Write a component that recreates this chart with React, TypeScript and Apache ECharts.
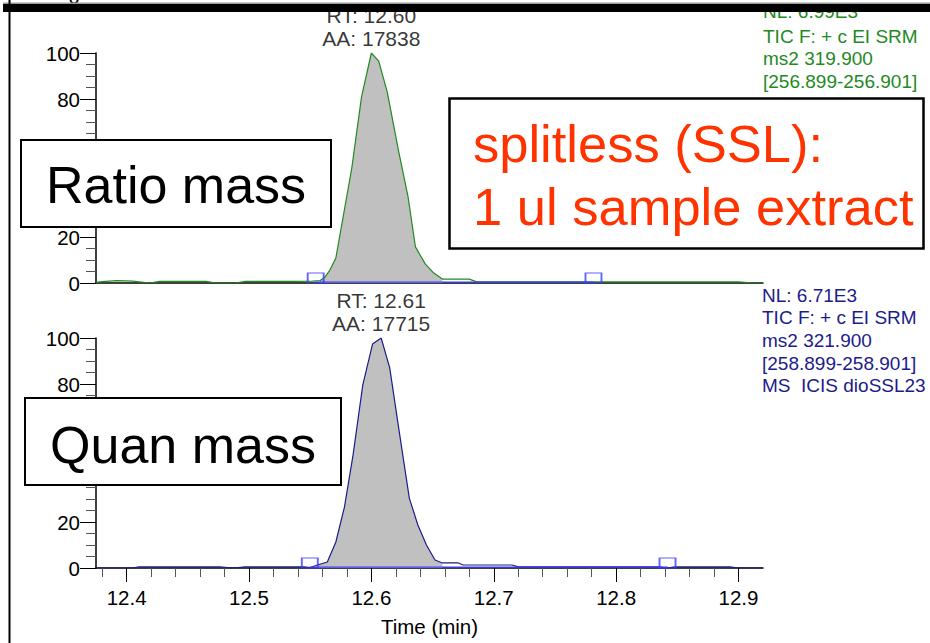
import React, { useEffect, useRef } from "react";
import * as echarts from "echarts";

const FONT = '"Liberation Sans", Arial, Helvetica, sans-serif';

// x range (min) and tick labels
const xMin = 12.375;
const xMax = 12.92;
const majorTicks = [12.4, 12.5, 12.6, 12.7, 12.8, 12.9];
const minorTicks = [
  12.38, 12.42, 12.44, 12.46, 12.48, 12.52, 12.54, 12.56, 12.58, 12.62, 12.64,
  12.66, 12.68, 12.72, 12.74, 12.76, 12.78, 12.82, 12.84, 12.86, 12.88,
];

// Ratio mass trace (green)
const topTimes = [
  12.375, 12.38, 12.392, 12.405, 12.419, 12.427, 12.465, 12.473, 12.489, 12.497,
  12.54, 12.552, 12.558, 12.562, 12.566, 12.571, 12.584, 12.592, 12.6, 12.606,
  12.613, 12.622, 12.63, 12.636, 12.644, 12.651, 12.658, 12.68, 12.686, 12.75,
  12.8, 12.85, 12.9, 12.912, 12.92,
];
const topValues = [
  0.3, 0.6, 1.0, 0.8, 0.0, 0.7, 0.7, 0.0, 0.0, 0.7, 0.7, 0.8, 1.0, 2.6, 5.5,
  10.9, 50, 81, 100, 96.5, 83, 58, 37.4, 15.7, 8.3, 4.3, 1.7, 1.7, 0.5, 0.5,
  0.5, 0.5, 0.5, 0.0, 0.0,
];
const topFillRange = [12.556, 12.658];
const topIntegration = [12.5545, 12.7815];

// Quan mass trace (navy)
const bottomTimes = [
  12.375, 12.405, 12.41, 12.476, 12.487, 12.497, 12.545, 12.55, 12.556, 12.564,
  12.571, 12.578, 12.585, 12.593, 12.601, 12.608, 12.615, 12.622, 12.631,
  12.638, 12.645, 12.652, 12.658, 12.671, 12.675, 12.715, 12.72, 12.835,
  12.842, 12.848, 12.893, 12.9, 12.92,
];
const bottomValues = [
  0, 0, 0.5, 0.5, 0.0, 0.5, 0.5, 0.2, 1.3, 2.6, 11.3, 26.5, 49, 79.6, 97.4, 100,
  87, 62, 30.4, 18.7, 10, 3.5, 2.2, 2.2, 1.3, 1.3, 0.5, 0.5, 0.0, 0.5, 0.5, 0.0,
  0.0,
];
const bottomFillRange = [12.553, 12.658];
const bottomIntegration = [12.5497, 12.842];

const baselineLevel = 0.4;
const rtLabels = ["RT: 12.60", "RT: 12.61"];
const aaLabels = ["AA: 17838", "AA: 17715"];

const greenInfo = ["NL: 6.99E3", "TIC F: + c EI SRM", "ms2 319.900", "[256.899-256.901]"];
const blueInfo = [
  "NL: 6.71E3",
  "TIC F: + c EI SRM",
  "ms2 321.900",
  "[258.899-258.901]",
  "MS  ICIS dioSSL23",
];
const boxLabels = ["Ratio mass", "Quan mass"];
const noteLines = ["splitless (SSL):", "1 ul sample extract"];

const GREEN = "#1f8a1f";
const NAVY = "#1c1c8a";
const MARK = "#3b3bff";

function pairs(ts: number[], vs: number[]) {
  return ts.map((t, i) => [t, vs[i]]);
}

function panel(
  gi: number,
  xi: number,
  times: number[],
  values: number[],
  color: string,
  fillRange: number[],
  integ: number[],
  labelIdx: number
) {
  const data = pairs(times, values);
  const fill = data.filter((d) => d[0] >= fillRange[0] && d[0] <= fillRange[1]);
  let apex = 0;
  values.forEach((v, i) => {
    if (v > values[apex]) apex = i;
  });
  return [
    {
      type: "line",
      xAxisIndex: xi,
      yAxisIndex: gi,
      data: fill,
      symbol: "none",
      lineStyle: { width: 0 },
      areaStyle: { color: "#c0c0c0", opacity: 1 },
      z: 1,
      silent: true,
    },
    {
      type: "line",
      xAxisIndex: xi,
      yAxisIndex: gi,
      data,
      symbol: "none",
      lineStyle: { color, width: 1.2 },
      z: 2,
    },
    {
      type: "line",
      xAxisIndex: xi,
      yAxisIndex: gi,
      data: [
        [integ[0], baselineLevel],
        [integ[1], baselineLevel],
      ],
      symbol: "none",
      lineStyle: { color: MARK, width: 1.3 },
      z: 3,
    },
    {
      type: "scatter",
      xAxisIndex: xi,
      yAxisIndex: gi,
      data: integ.map((t) => [t, 0]),
      symbol: "rect",
      symbolSize: [16, 10],
      symbolOffset: [0, -5],
      itemStyle: { color: "rgba(255,255,255,0)", borderColor: MARK, borderWidth: 1.5 },
      z: 4,
    },
    {
      type: "scatter",
      xAxisIndex: xi,
      yAxisIndex: gi,
      data: [[times[apex], values[apex]]],
      symbolSize: 0,
      clip: false,
      label: {
        show: true,
        position: "top",
        distance: 3,
        formatter: rtLabels[labelIdx] + "\n" + aaLabels[labelIdx],
        fontSize: 21,
        lineHeight: 23,
        color: "#000",
        fontFamily: FONT,
        align: "center",
      },
      z: 5,
    },
  ];
}

function yAxis(gi: number) {
  return {
    gridIndex: gi,
    type: "value",
    min: 0,
    max: 100,
    interval: 20,
    axisLine: { show: true, lineStyle: { color: "#000", width: 1.5 } },
    axisTick: { show: true, length: 16, lineStyle: { color: "#000", width: 1 } },
    minorTick: { show: true, splitNumber: 4, length: 10, lineStyle: { color: "#555", width: 1 } },
    axisLabel: { fontSize: 20.5, color: "#000", margin: 16, fontFamily: FONT },
    splitLine: { show: false },
    minorSplitLine: { show: false },
  };
}

function txt(text: string, x: number, baseline: number, fs: number, fill: string, align = "left", z = 100) {
  return {
    type: "text",
    x,
    y: baseline - 0.35 * fs,
    z,
    style: { text, fontSize: fs, fontFamily: FONT, fill, align, verticalAlign: "middle" },
  };
}

export default function App() {
  const ref = useRef<HTMLDivElement>(null);
  useEffect(() => {
    if (!ref.current) return;
    const chart = echarts.init(ref.current, undefined, { renderer: "svg" });
    const graphics: any[] = [];
    // info texts
    greenInfo.forEach((s, i) => graphics.push(txt(s, 763, [18, 43, 65.5, 88][i], 19, GREEN)));
    blueInfo.forEach((s, i) => graphics.push(txt(s, 762, 302 + i * 22.6, 19, NAVY)));
    // partial tick label from previous panel
    graphics.push(txt("0", 74, 3.5, 20, "#000", "center"));
    // top band and left rule
    graphics.push({ type: "rect", z: 110, shape: { x: 3, y: 2.5, width: 930, height: 1.5 }, style: { fill: "#9a9a9a" } });
    graphics.push({ type: "rect", z: 111, shape: { x: 3, y: 4, width: 930, height: 8 }, style: { fill: "#000" } });
    graphics.push({ type: "rect", z: 111, shape: { x: 8.5, y: 0, width: 2, height: 643 }, style: { fill: "#000" } });
    // label boxes
    graphics.push({ type: "rect", z: 100, shape: { x: 21, y: 140, width: 310, height: 87 }, style: { fill: "#fff", stroke: "#000", lineWidth: 2 } });
    graphics.push(txt(boxLabels[0], 176, 203, 52, "#000", "center", 101));
    graphics.push({ type: "rect", z: 100, shape: { x: 25, y: 398, width: 316, height: 87 }, style: { fill: "#fff", stroke: "#000", lineWidth: 2 } });
    graphics.push(txt(boxLabels[1], 183, 463, 52, "#000", "center", 101));
    graphics.push({ type: "rect", z: 100, shape: { x: 449.5, y: 98.5, width: 474, height: 150 }, style: { fill: "#fff", stroke: "#000", lineWidth: 2.5 } });
    graphics.push(txt(noteLines[0], 473, 162, 52.5, "#ff3300", "left", 101));
    graphics.push(txt(noteLines[1], 473, 225, 52.5, "#ff3300", "left", 101));

    chart.setOption({
      animation: false,
      textStyle: { fontFamily: FONT },
      grid: [
        { left: 96, top: 53, width: 667, height: 230 },
        { left: 96, top: 338, width: 667, height: 230 },
      ],
      xAxis: [
        {
          gridIndex: 0,
          type: "value",
          min: xMin,
          max: xMax,
          axisLine: { show: true, onZero: false, lineStyle: { color: "#000", width: 1.5 } },
          axisTick: { show: false },
          axisLabel: { show: false },
          splitLine: { show: false },
        },
        {
          gridIndex: 1,
          type: "value",
          min: xMin,
          max: xMax,
          position: "bottom",
          axisLine: { show: true, onZero: false, lineStyle: { color: "#000", width: 1.5 } },
          axisTick: { show: true, customValues: majorTicks, length: 14, lineStyle: { color: "#000", width: 1 } },
          axisLabel: {
            customValues: majorTicks,
            formatter: (v: number) => v.toFixed(1),
            fontSize: 20.5,
            color: "#000",
            margin: 19,
            fontFamily: FONT,
          },
          splitLine: { show: false },
          name: "Time (min)",
          nameLocation: "middle",
          nameGap: 48,
          nameTextStyle: { fontSize: 20.5, color: "#000", fontFamily: FONT },
        },
        {
          gridIndex: 1,
          type: "value",
          min: xMin,
          max: xMax,
          position: "bottom",
          axisLine: { show: false, onZero: false },
          axisTick: { show: true, customValues: minorTicks, length: 9, lineStyle: { color: "#555", width: 1 } },
          axisLabel: { show: false },
          splitLine: { show: false },
        },
      ],
      yAxis: [yAxis(0), yAxis(1)],
      series: [
        ...panel(0, 0, topTimes, topValues, GREEN, topFillRange, topIntegration, 0),
        ...panel(1, 1, bottomTimes, bottomValues, NAVY, bottomFillRange, bottomIntegration, 1),
      ],
      graphic: graphics,
    });
    return () => chart.dispose();
  }, []);
  return (
    <div
      ref={ref}
      style={{ position: "fixed", left: 0, top: 0, width: 930, height: 643, background: "#fff" }}
    />
  );
}
